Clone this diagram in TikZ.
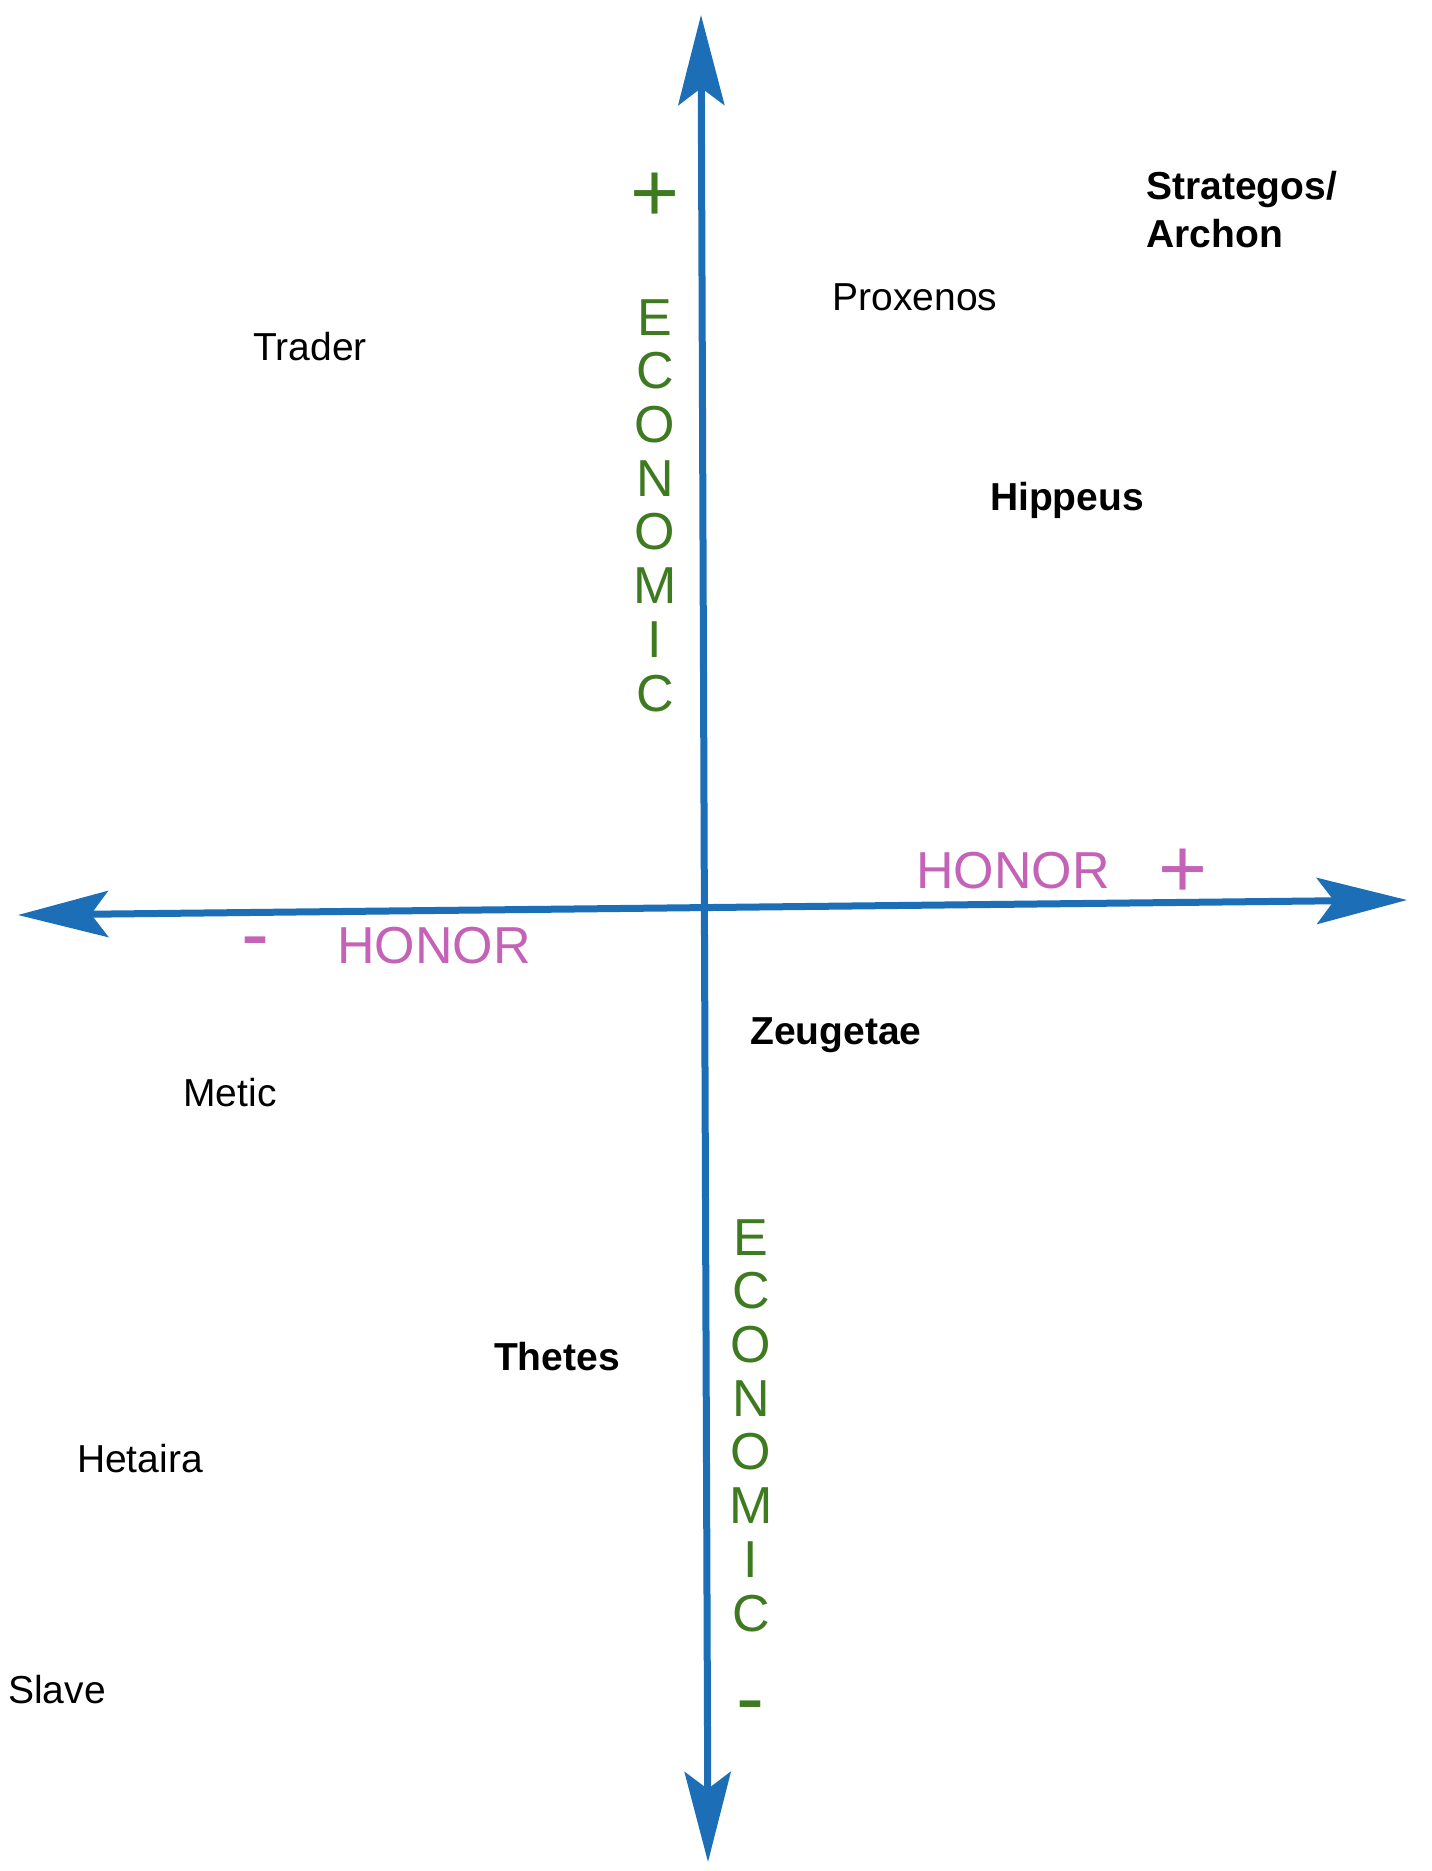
\documentclass[tikz,border=0pt]{standalone}
\usepackage{fontspec}
\setmainfont{Liberation Sans}
\usetikzlibrary{arrows.meta}
\definecolor{axisblue}{RGB}{28,110,182}
\definecolor{econgreen}{RGB}{62,122,32}
\definecolor{honorpink}{RGB}{196,98,184}
\tikzset{
  axisline/.style={draw=axisblue, line width=3.5pt,
    {Stealth[length=45pt,width=23pt,inset=8.5pt,fill=axisblue]}-{Stealth[length=45pt,width=23pt,inset=8.5pt,fill=axisblue]}},
  rolelabel/.style={inner sep=0pt, anchor=base, text=black, font=\fontsize{19.5}{24}\selectfont},
  rolebold/.style={rolelabel, font=\fontsize{19.5}{24}\selectfont\bfseries},
  econlabel/.style={inner sep=0pt, anchor=north, align=center, text=econgreen, font=\fontsize{26}{26.85}\selectfont},
  honorlabel/.style={inner sep=0pt, anchor=base, text=honorpink, font=\fontsize{26}{30}\selectfont},
  signlabel/.style={inner sep=0pt, anchor=base, font=\fontsize{42}{48}\selectfont}
}
\begin{document}
\begin{tikzpicture}[x=0.5pt, y=-0.5pt]
\useasboundingbox[fill=white] (0,0) rectangle (1431,1871);
% axis end points
\coordinate (ytop) at (701,15);
\coordinate (ybot) at (708,1862);
\coordinate (xleft) at (18,915);
\coordinate (xright) at (1407,900);
\draw[axisline] (xleft) -- (xright);
\draw[axisline] (ybot) -- (ytop);
% axis labels
\node[signlabel, text=econgreen] (eplus) at (655,222) {+};
\node[econlabel] (econtop) at (655,299) {E\\C\\O\\N\\O\\M\\I\\C};
\node[econlabel] (econbot) at (751,1219) {E\\C\\O\\N\\O\\M\\I\\C};
\node[signlabel, text=econgreen] (eminus) at (750,1726) {-};
\node[honorlabel] (honorright) at (1013,888) {HONOR};
\node[signlabel, text=honorpink] (hplus) at (1183,897) {+};
\node[signlabel, text=honorpink] (hminus) at (255,962) {-};
\node[honorlabel] (honorleft) at (434,963) {HONOR};
% roles
\node[rolebold, anchor=north west, align=left] (strategos) at (1146,171) {Strategos/\\Archon};
\node[rolelabel] (proxenos) at (915,311) {Proxenos};
\node[rolelabel] (trader) at (310,361) {Trader};
\node[rolebold] (hippeus) at (1067,510) {Hippeus};
\node[rolebold] (zeugetae) at (836,1044) {Zeugetae};
\node[rolelabel] (metic) at (230,1106) {Metic};
\node[rolebold] (thetes) at (557,1370) {Thetes};
\node[rolelabel] (hetaira) at (140,1472) {Hetaira};
\node[rolelabel] (slave) at (57,1703) {Slave};
\end{tikzpicture}
\end{document}
